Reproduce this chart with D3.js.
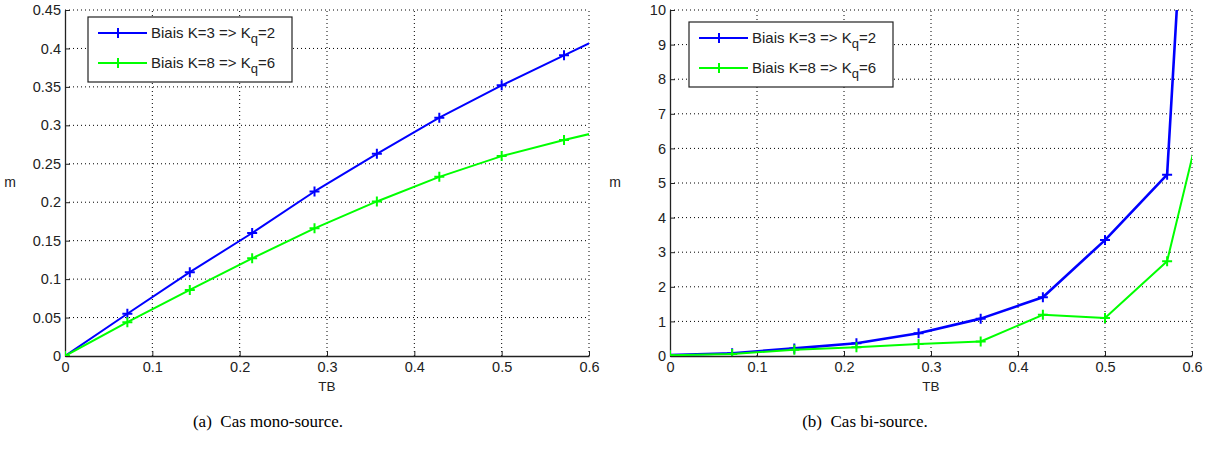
<!DOCTYPE html>
<html><head><meta charset="utf-8">
<script src="https://cdn.jsdelivr.net/npm/d3@7"></script>
<style>body{margin:0;background:#fff;} svg{display:block;}</style>
</head><body>
<svg id="chart" width="1212" height="449"></svg>
<script>
// ---- data ----
const tbValues = [0, 0.0714, 0.1429, 0.2143, 0.2857, 0.3571, 0.4286, 0.5, 0.5714, 0.6429];
const monoK3 = [0, 0.055, 0.109, 0.160, 0.214, 0.263, 0.310, 0.352, 0.391, 0.430];
const monoK8 = [0, 0.044, 0.086, 0.127, 0.166, 0.201, 0.233, 0.260, 0.281, 0.300];
const biK3 = [0.03, 0.08, 0.22, 0.37, 0.66, 1.08, 1.70, 3.35, 5.24, 36];
const biK8 = [0.02, 0.06, 0.18, 0.25, 0.35, 0.42, 1.19, 1.10, 2.74, 10.2];
const xTicks = [0, 0.1, 0.2, 0.3, 0.4, 0.5, 0.6];
const monoYTicks = [0, 0.05, 0.1, 0.15, 0.2, 0.25, 0.3, 0.35, 0.4, 0.45];
const biYTicks = [0, 1, 2, 3, 4, 5, 6, 7, 8, 9, 10];
const seriesNames = ["K=3 => K|2", "K=8 => K|6"];
const captions = ["(a)  Cas mono-source.", "(b)  Cas bi-source."];

const svg = d3.select("#chart");
const font = "'Liberation Sans', Arial, Helvetica, sans-serif";
const axisColor = "#222";
const colors = ["#0000ff", "#00ff00"];

function panel(cfg) {
  const x = d3.scaleLinear().domain([0, 0.6]).range([cfg.x0, cfg.x1]);
  const y = d3.scaleLinear().domain([0, cfg.ymax]).range([356, 10]);
  const g = svg.append("g");
  const id = "clip" + cfg.idx;
  svg.append("defs").append("clipPath").attr("id", id)
    .append("rect").attr("x", cfg.x0).attr("y", 10).attr("width", cfg.x1 - cfg.x0).attr("height", 346);

  // grid
  g.append("g").selectAll("line").data(xTicks.slice(1)).join("line")
    .attr("x1", d => x(d)).attr("x2", d => x(d)).attr("y1", 356).attr("y2", 10)
    .attr("stroke", "#000").attr("stroke-width", 1).attr("stroke-dasharray", "1,3");
  g.append("g").selectAll("line").data(cfg.yticks.slice(1)).join("line")
    .attr("x1", cfg.x0).attr("x2", cfg.x1).attr("y1", d => y(d)).attr("y2", d => y(d))
    .attr("stroke", "#000").attr("stroke-width", 1).attr("stroke-dasharray", "1,3");

  // axes
  const xa = g.append("g").attr("transform", "translate(0,356)")
    .call(d3.axisBottom(x).tickValues(xTicks).tickSizeInner(-5).tickSizeOuter(0).tickPadding(6).tickFormat(d3.format("")));
  const ya = g.append("g").attr("transform", `translate(${cfg.x0},0)`)
    .call(d3.axisLeft(y).tickValues(cfg.yticks).tickSizeInner(-5).tickSizeOuter(0).tickPadding(4).tickFormat(d3.format("")));
  [xa, ya].forEach(a => {
    a.select(".domain").attr("stroke", axisColor).attr("stroke-width", 1.3);
    a.selectAll(".tick line").attr("stroke", axisColor);
    a.selectAll("text").attr("font-family", font).attr("font-size", 14.5).attr("fill", "#222");
  });

  // series
  const line = d3.line().x((d, i) => x(tbValues[i])).y(d => y(d));
  const plot = g.append("g").attr("clip-path", `url(#${id})`);
  cfg.series.forEach((s, k) => {
    plot.append("path").datum(s).attr("d", line).attr("fill", "none")
      .attr("stroke", colors[k]).attr("stroke-width", cfg.widths[k]).attr("stroke-linejoin", "round");
    plot.append("g").selectAll("path").data(s).join("path")
      .attr("d", (d, i) => {
        const cx = x(tbValues[i]), cy = y(d), r = 5;
        return `M${cx - r},${cy}H${cx + r}M${cx},${cy - r}V${cy + r}`;
      })
      .attr("stroke", colors[k]).attr("stroke-width", 2);
  });

  // labels
  g.append("text").attr("x", (cfg.x0 + cfg.x1) / 2).attr("y", 391).attr("text-anchor", "middle")
    .attr("font-family", font).attr("font-size", 13.5).attr("fill", "#222").text("TB");
  g.append("text").attr("x", cfg.x0 - 55).attr("y", 187).attr("text-anchor", "middle")
    .attr("font-family", font).attr("font-size", 14).attr("fill", "#222").text("m");
  g.append("text").attr("x", cfg.capX).attr("y", 427).attr("text-anchor", "middle")
    .attr("font-family", "'Liberation Serif', 'Times New Roman', serif").attr("font-size", 17)
    .attr("fill", "#000").attr("xml:space", "preserve").text(cfg.caption);

  // legend
  const L = cfg.legend;
  const lg = g.append("g");
  lg.append("rect").attr("x", L.x).attr("y", L.y).attr("width", 204).attr("height", 65)
    .attr("fill", "#fff").attr("stroke", "#222").attr("stroke-width", 1.2);
  seriesNames.forEach((name, k) => {
    const ly = L.y + 16 + k * 30;
    lg.append("line").attr("x1", L.x + 10).attr("x2", L.x + 59).attr("y1", ly).attr("y2", ly)
      .attr("stroke", colors[k]).attr("stroke-width", 2);
    lg.append("path").attr("d", `M${L.x + 30},${ly - 5}V${ly + 5}`).attr("stroke", colors[k]).attr("stroke-width", 2);
    const [main, sub] = name.split("|");
    const t = lg.append("text").attr("x", L.x + 63).attr("y", ly + 5)
      .attr("font-family", font).attr("font-size", 15).attr("fill", "#222");
    t.append("tspan").text("Biais " + main);
    t.append("tspan").attr("dy", 5).attr("font-size", 13).text("q");
    t.append("tspan").attr("dy", -5).text("=" + sub);
  });
}

panel({idx: 0, x0: 65, x1: 589, ymax: 0.45, yticks: monoYTicks, series: [monoK3, monoK8], widths: [2, 2],
  caption: captions[0], capX: 268, legend: {x: 88, y: 17}});
panel({idx: 1, x0: 670, x1: 1192, ymax: 10, yticks: biYTicks, series: [biK3, biK8], widths: [2.6, 2],
  caption: captions[1], capX: 865, legend: {x: 689, y: 22}});
</script>
</body></html>
